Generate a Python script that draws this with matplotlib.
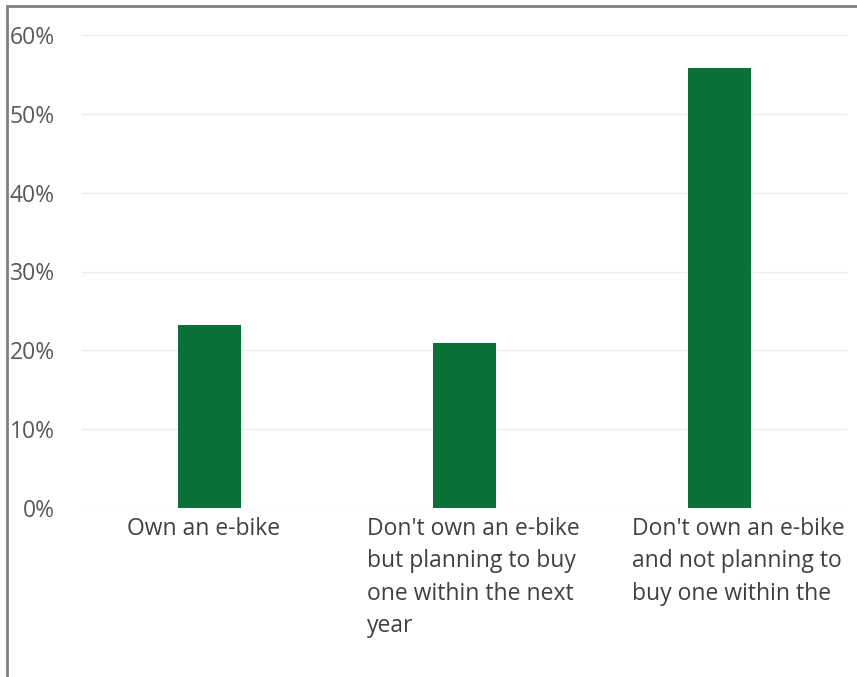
import matplotlib.pyplot as plt
from matplotlib.patches import Rectangle

categories = [
    "Own an e-bike",
    "Don't own an e-bike\nbut planning to buy\none within the next\nyear",
    "Don't own an e-bike\nand not planning to\nbuy one within the",
]
shares = [0.232, 0.209, 0.558]
yticks = [0, 0.1, 0.2, 0.3, 0.4, 0.5, 0.6]
ytick_labels = ["0%", "10%", "20%", "30%", "40%", "50%", "60%"]

plt.rcParams['font.family'] = ['Open Sans', 'DejaVu Sans']

fig = plt.figure(figsize=(8.57, 6.77), dpi=100)
ax = fig.add_axes([82 / 857, 1 - 508 / 677, 765 / 857, 473 / 677])

x = list(range(len(categories)))
ax.bar(x, shares, width=0.25, color='#0a7038', zorder=3)

ax.set_xlim(-0.5, 2.5)
ax.set_ylim(0, 0.6)
ax.set_yticks(yticks)
ax.set_yticklabels(ytick_labels, fontsize=16.5, color='#595959')
ax.yaxis.grid(True, color='#ededed', linewidth=1, zorder=0)
ax.tick_params(axis='y', length=0, pad=19.5)
ax.tick_params(axis='x', length=0)
ax.set_xticks([])
for s in ax.spines.values():
    s.set_visible(False)

# category labels, wrapped and left aligned under each bar
label_x = [127 / 857, 367 / 857, 632 / 857]
for lx, text in zip(label_x, categories):
    fig.text(lx, 1 - 517 / 677, text, ha='left', va='top', fontsize=16.5,
             color='#404040', linespacing=1.46)

# outer chart frame
fig.add_artist(Rectangle((7 / 857, -0.05), 1.2, 1 - 6 / 677 + 0.05,
                         transform=fig.transFigure, fill=False,
                         edgecolor='#7f7f7f', linewidth=2))

fig.savefig('out.png', dpi=100)
